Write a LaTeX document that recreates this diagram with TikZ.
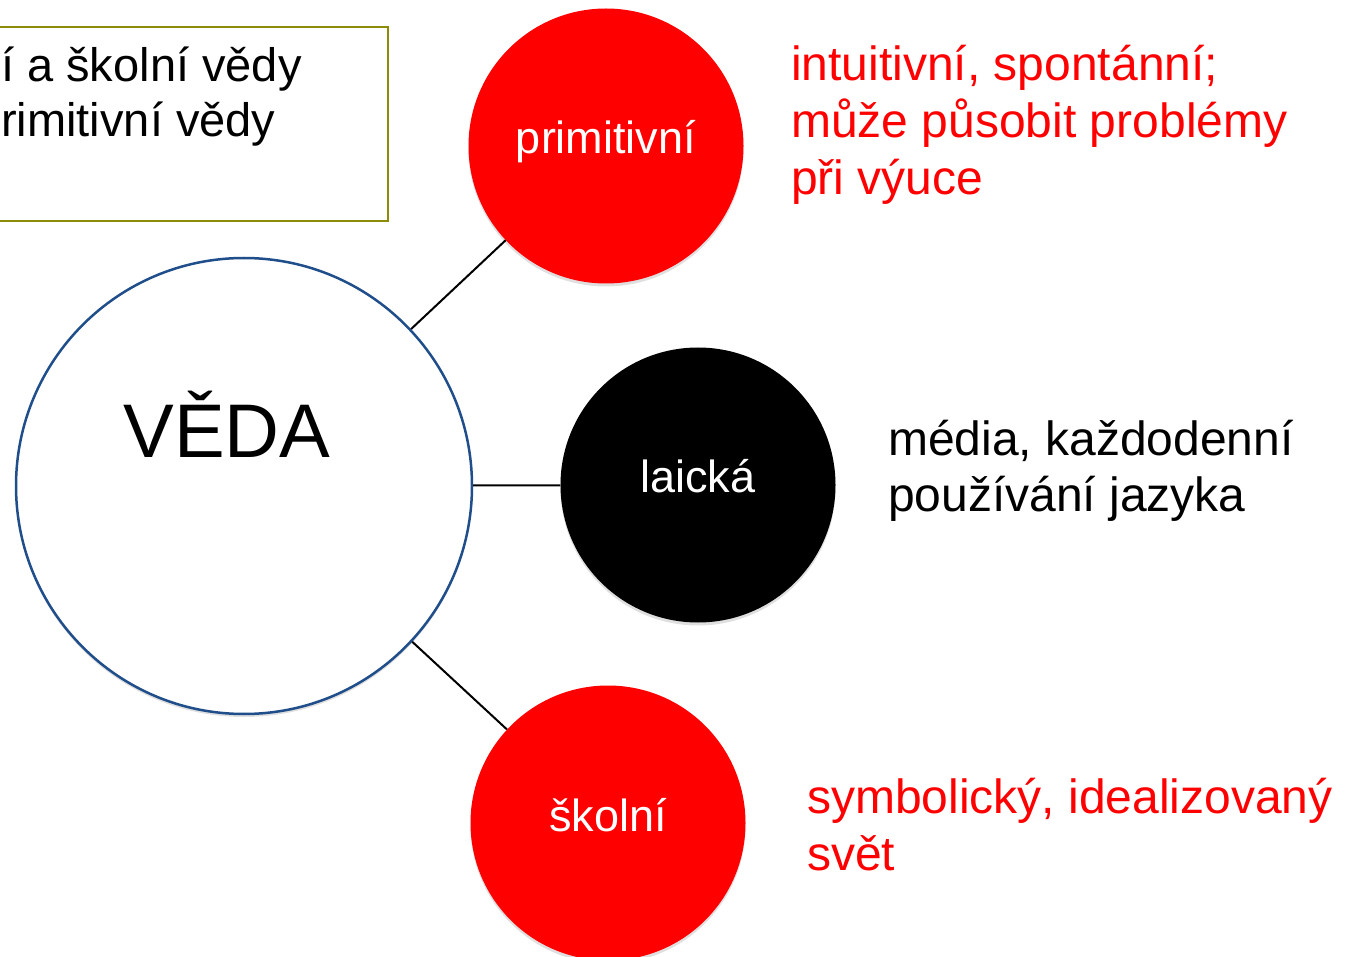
\documentclass[tikz,border=0pt]{standalone}
\usepackage{fontspec}
\setmainfont{Liberation Sans}
\usetikzlibrary{positioning,shadows}

\definecolor{vedablue}{RGB}{31,78,138}
\definecolor{boxolive}{RGB}{140,140,10}

\begin{document}
\begin{tikzpicture}[x=1pt,y=-1pt,
    bubble/.style={circle,inner sep=0pt,minimum size=275pt,text=white,
      text height=16pt,text depth=0pt,
      font=\fontsize{45}{54}\selectfont,
      drop shadow={shadow xshift=0pt,shadow yshift=-3pt,opacity=.25}},
    note/.style={anchor=base west,align=left,inner sep=0pt,
      font=\fontsize{48}{57}\selectfont},
    link/.style={line width=2pt}]
  \useasboundingbox (0,0) rectangle (1345,957);
  % box cut by the left edge
  \node[draw=boxolive,line width=2pt,minimum width=404pt,minimum height=194pt,
        anchor=north east] (box) at (389,26) {};
  \node[note,font=\fontsize{47}{55}\selectfont] (boxtxt) at (1,137)
       {í a školní vědy\\rimitivní vědy};
  % circles
  \node[bubble,fill=white,draw=vedablue,line width=2.5pt,minimum size=456pt]
       (veda) at (244,486) {};
  \node[font=\fontsize{76}{90}\selectfont,anchor=base] (vedatxt) at (227,458) {VĚDA};
  \node[bubble,fill=red]   (prim) at (606,146) {primitivní};
  \node[bubble,fill=black] (laic) at (698,485) {laická};
  \node[bubble,fill=red]   (skol) at (608,823) {školní};
  % links
  \draw[link] (veda) -- (prim);
  \draw[link] (veda) -- (laic);
  \draw[link] (veda) -- (skol);
  % notes (base = last line)
  \node[note,red] (primtxt) at (791,195)
       {intuitivní, spontánní;\\může působit problémy\\při výuce};
  \node[note] (laictxt) at (888,512) {média, každodenní\\používání jazyka};
  \node[note,red] (skoltxt) at (807,870) {symbolický, idealizovaný\\svět};
\end{tikzpicture}
\end{document}
